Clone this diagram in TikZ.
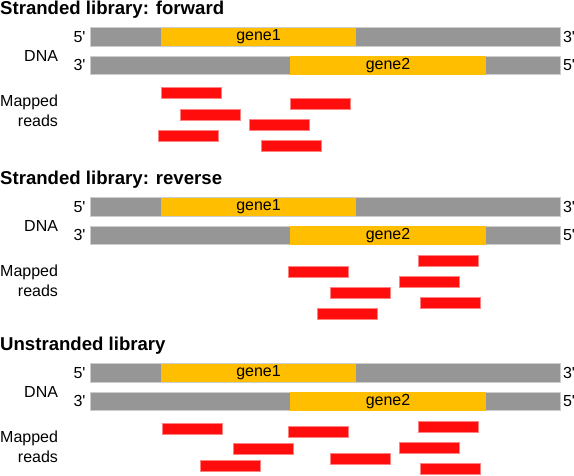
\documentclass[tikz,border=0pt]{standalone}
\usepackage{fontspec}
\setmainfont{Liberation Sans}
\newfontfamily\plainf{Liberation Sans}
\definecolor{dnagray}{RGB}{150,150,150}
\definecolor{dnaedge}{RGB}{205,205,205}
\definecolor{genegold}{RGB}{255,190,0}
\definecolor{readred}{RGB}{255,13,13}
\definecolor{readedge}{RGB}{255,130,130}
\newcommand\rd[3]{\node[read] (#1) at (#2,#3) {};}
\newcommand\dnapanel[3]{%
  \node[title] (#1title) at (0,14) {#2};
  \node[strand] (#1s1) at (90,27.7) {};
  \node[gene,minimum width=195pt] (#1g1) at (161,27.7) {gene1};
  \node[strand] (#1s2) at (90,56) {};
  \node[gene,minimum width=196pt] (#1g2) at (290,56) {gene2};
  \node[lbl,anchor=east] (#1a) at (85.5,36.8) {5'};
  \node[lbl,anchor=west] (#1b) at (563,36.8) {3'};
  \node[lbl,anchor=east] (#1c) at (85.5,65) {3'};
  \node[lbl,anchor=west] (#1d) at (563,65) {5'};
  \node[lbl,anchor=base east] (#1dna) at (58,61.7) {DNA};
  \node[lbl,anchor=base east] (#1mapped) at (58,106.7) {Mapped};
  \node[lbl,anchor=base east] (#1reads) at (58,126) {reads};
  #3}
\begin{document}
\begin{tikzpicture}[x=1pt,y=-1pt,
  lbl/.style={font=\plainf\fontsize{16}{19}\selectfont,inner sep=0pt,outer sep=0pt},
  title/.style={font=\plainf\fontsize{18.6}{21}\selectfont\bfseries,inner sep=0pt,anchor=base west},
  strand/.style={draw=dnaedge,fill=dnagray,line width=0.6pt,minimum width=470pt,minimum height=18.5pt,inner sep=0pt,outer sep=0pt,anchor=north west},
  gene/.style={fill=genegold,minimum height=18.5pt,inner sep=0pt,outer sep=0pt,anchor=north west,font=\plainf\fontsize{16}{19}\selectfont},
  read/.style={draw=readedge,fill=readred,line width=0.5pt,minimum width=60pt,minimum height=11pt,inner sep=0pt,outer sep=0pt,anchor=north west}]
\useasboundingbox (0,0) rectangle (574,475);
\begin{scope}
\dnapanel{pa}{Stranded library: forward}{%
  \rd{pa1}{161}{87.7}
  \rd{pa2}{180.5}{109}
  \rd{pa3}{158.5}{130}
  \rd{pa4}{261.7}{140.7}
  \rd{pa5}{249}{119.3}
  \rd{pa6}{290.6}{98.3}}
\end{scope}
\begin{scope}[shift={(0,170)}]
\dnapanel{pb}{Stranded library: reverse}{%
  \rd{pb1}{288.4}{96}
  \rd{pb2}{329.8}{117}
  \rd{pb3}{317.7}{138}
  \rd{pb4}{418.4}{85.3}
  \rd{pb5}{399}{106.3}
  \rd{pb6}{420.2}{127}}
\end{scope}
\begin{scope}[shift={(0,336)}]
\dnapanel{pc}{Unstranded library}{%
  \rd{pc1}{162.5}{87.3}
  \rd{pc2}{233}{107}
  \rd{pc3}{200.6}{124.3}
  \rd{pc4}{288.4}{90.7}
  \rd{pc5}{329.8}{117}
  \rd{pc6}{418.4}{85.3}
  \rd{pc7}{399}{106.3}
  \rd{pc8}{420.2}{127.3}}
\end{scope}
\end{tikzpicture}
\end{document}
